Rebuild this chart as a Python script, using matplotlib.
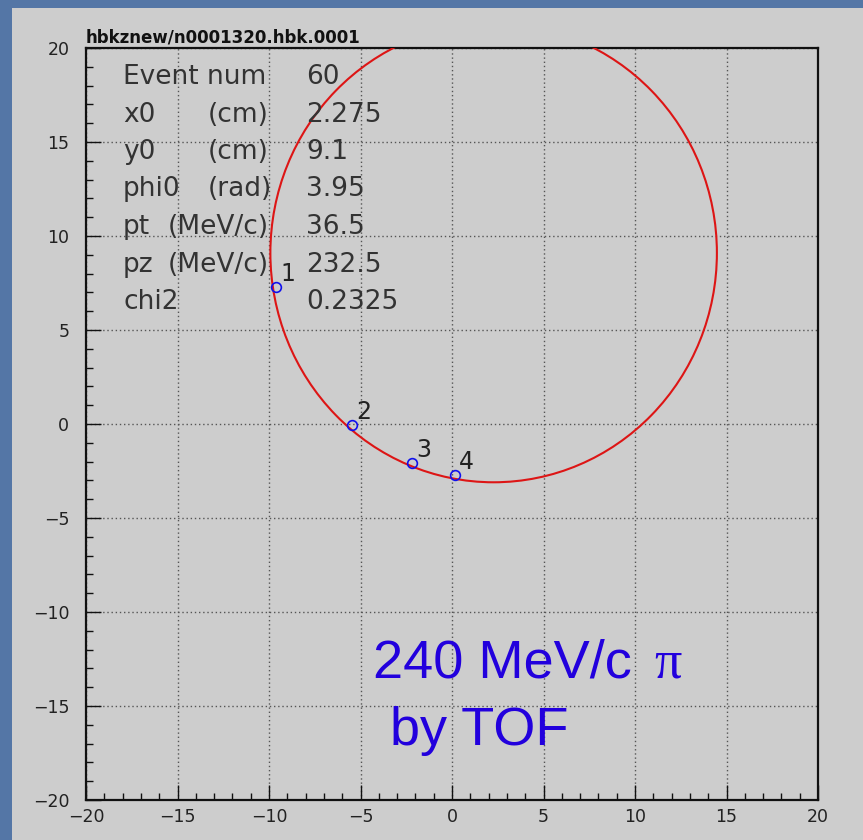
import matplotlib
matplotlib.use("Agg")
import matplotlib.pyplot as plt
from matplotlib.patches import Circle

# ---- data ----
hit_x = [-9.62, -5.46, -2.19, 0.16]
hit_y = [7.29, -0.05, -2.07, -2.71]
hit_labels = ["1", "2", "3", "4"]

fit_x0 = 2.275
fit_y0 = 9.1
fit_radius = 12.2

info_names = ["Event num", "x0", "y0", "phi0", "pt", "pz", "chi2"]
info_units = ["", "(cm)", "(cm)", "(rad)", "(MeV/c)", "(MeV/c)", ""]
info_values = ["60", "2.275", "9.1", "3.95", "36.5", "232.5", "0.2325"]

title_text = "hbkznew/n0001320.hbk.0001"
note_line1 = "240 MeV/c "
note_pi = "π"
note_line2 = "by TOF"
tick_vals = [-20, -15, -10, -5, 0, 5, 10, 15, 20]

W, H = 863, 840
fig = plt.figure(figsize=(W / 100, H / 100), dpi=100)
fig.patch.set_facecolor("#5476a6")

# gray slide panel
bg = fig.add_axes([12 / W, 0, 1 - 12 / W, (H - 8) / H], zorder=-10)
bg.set_facecolor("#cdcdcd")
bg.set_xticks([])
bg.set_yticks([])
for s in bg.spines.values():
    s.set_visible(False)

L, R, T, B = 86, 818, 48, 800
ax = fig.add_axes([L / W, (H - B) / H, (R - L) / W, (B - T) / H], zorder=1)
ax.set_facecolor("#cdcdcd")
ax.set_xlim(-20, 20)
ax.set_ylim(-20, 20)

ax.set_xticks(tick_vals)
ax.set_yticks(tick_vals)
ax.set_xticks(range(-20, 21), minor=True)
ax.set_yticks(range(-20, 21), minor=True)
ax.tick_params(which="major", direction="in", length=10.5, width=1.0,
               labelsize=12.5, colors="#111", top=False, right=False)
ax.tick_params(which="minor", direction="in", length=5, width=1.0,
               colors="#111", top=False, right=False)
ax.tick_params(axis="y", which="major", pad=12)
ax.tick_params(axis="x", which="major", pad=6)
for lab in ax.get_xticklabels() + ax.get_yticklabels():
    lab.set_color("#222")

ax.grid(True, which="major", color="#555555", linestyle=(0, (1, 2)), linewidth=1.0)
ax.set_axisbelow(True)
for s in ax.spines.values():
    s.set_linewidth(1.6)
    s.set_color("#111")

# fitted circle
ax.add_patch(Circle((fit_x0, fit_y0), fit_radius, fill=False, edgecolor="#dd1515",
                    linewidth=1.5, zorder=3))

# hits
ax.plot(hit_x, hit_y, linestyle="none", marker="o", markersize=7,
        markerfacecolor="none", markeredgecolor="#1010ee", markeredgewidth=1.2, zorder=4)
for hx, hy, hl in zip(hit_x, hit_y, hit_labels):
    ax.annotate(hl, (hx, hy), xytext=(3, 1), textcoords="offset points",
                fontsize=17, color="#222", ha="left", va="bottom", zorder=5)

# info block
def ax_x(px):
    return (px - L) / (R - L)

def ax_y(py):
    return (B - py) / (B - T)

unit_px = {"(cm)": 208, "(rad)": 208, "(MeV/c)": 168}
for i, (nm, un, va) in enumerate(zip(info_names, info_units, info_values)):
    py = 84 + 37.5 * i
    ax.text(ax_x(123), ax_y(py), nm, transform=ax.transAxes, fontsize=19,
            color="#333", va="baseline", ha="left", family="DejaVu Sans", zorder=6)
    if un:
        ax.text(ax_x(unit_px[un]), ax_y(py), un, transform=ax.transAxes, fontsize=19,
                color="#333", va="baseline", ha="left", family="DejaVu Sans", zorder=6)
    ax.text(ax_x(306), ax_y(py), va, transform=ax.transAxes, fontsize=19,
            color="#333", va="baseline", ha="left", family="DejaVu Sans", zorder=6)

# title
fig.text(L / W, (H - 42) / H, title_text, fontsize=12, color="#111",
         fontweight="semibold", family="DejaVu Sans", ha="left", va="baseline")

# big blue note
ax.text(ax_x(373), ax_y(677), note_line1, transform=ax.transAxes, fontsize=39,
        color="#2200dd", family="Liberation Sans", ha="left", va="baseline", zorder=6)
ax.text(ax_x(654), ax_y(677), note_pi, transform=ax.transAxes, fontsize=39,
        color="#2200dd", family="Liberation Serif", ha="left", va="baseline", zorder=6)
ax.text(ax_x(390), ax_y(745), note_line2, transform=ax.transAxes, fontsize=39,
        color="#2200dd", family="Liberation Sans", ha="left", va="baseline", zorder=6)

fig.savefig("out.png", dpi=100, facecolor=fig.get_facecolor())
